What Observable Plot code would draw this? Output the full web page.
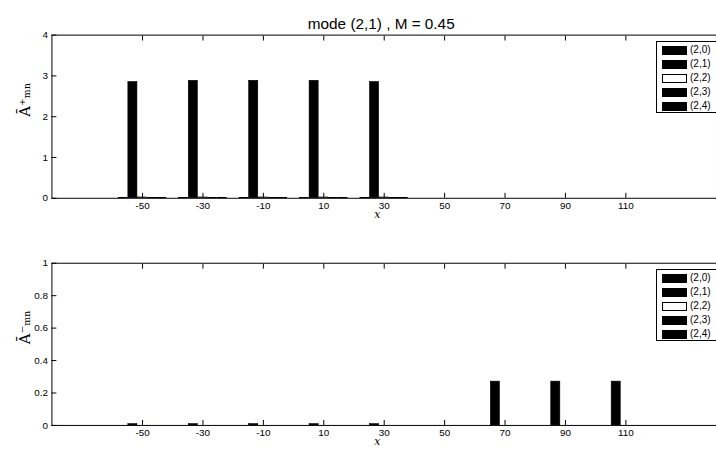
<!DOCTYPE html>
<html><head><meta charset="utf-8">
<script src="https://cdn.jsdelivr.net/npm/d3@7"></script>
<script src="https://cdn.jsdelivr.net/npm/@observablehq/plot@0.6"></script>
<style>
html,body{margin:0;padding:0;background:#fff;overflow:hidden;width:716px;height:449px;}
#wrap{position:relative;width:716px;height:449px;overflow:hidden;font-family:"Liberation Sans",Arial,sans-serif;}
.panel{position:absolute;left:0;}
.legend{position:absolute;border:1px solid #000;background:#fff;width:80px;height:70px;}
.legend .row{position:absolute;left:5px;height:10px;display:flex;align-items:center;}
.legend .sw{width:25px;height:9px;border:1px solid #000;box-sizing:border-box;margin-right:3px;}
.legend .lab{font-size:10px;color:#000;line-height:10px;}
</style></head><body><div id="wrap"></div>
<script>
const categories = [-50, -30, -10, 10, 30, 50, 70, 90, 110];
const seriesNames = ["(2,0)", "(2,1)", "(2,2)", "(2,3)", "(2,4)"];
const seriesFill = ["#000", "#000", "#fff", "#000", "#000"];

// top panel (A+), one array per series
const top_20 = [0.01, 0.01, 0.01, 0.01, 0.01, 0, 0, 0, 0];
const top_21 = [2.85, 2.88, 2.88, 2.88, 2.85, 0, 0, 0, 0];
const top_22 = [0.02, 0.02, 0.02, 0.02, 0.02, 0, 0, 0, 0];
const top_23 = [0.01, 0.01, 0.01, 0.01, 0.01, 0, 0, 0, 0];
const top_24 = [0.01, 0.01, 0.01, 0.01, 0.01, 0, 0, 0, 0];
// bottom panel (A-)
const bot_20 = [0, 0, 0, 0, 0, 0, 0, 0, 0];
const bot_21 = [0.008, 0.008, 0.008, 0.008, 0.008, 0, 0.27, 0.27, 0.27];
const bot_22 = [0, 0, 0, 0, 0, 0, 0, 0, 0];
const bot_23 = [0, 0, 0, 0, 0, 0, 0, 0, 0];
const bot_24 = [0, 0, 0, 0, 0, 0, 0, 0, 0];

const topTicksY = [0, 1, 2, 3, 4];
const botTicksY = [0, 0.2, 0.4, 0.6, 0.8, 1];
const titleText = "mode (2,1) , M = 0.45";

function rowsOf(seriesArrays) {
  const rows = [];
  seriesArrays.forEach((arr, s) => arr.forEach((v, i) => rows.push({x: categories[i], s, v})));
  return rows;
}
const groupStep = 3.2, barW = 3.0;

function panel({rows, yDomain, yTicks, height, marginTop, marginBottom, ylabel, title}) {
  const marks = [
    Plot.rect(rows, {
      x1: d => d.x + (d.s - 2) * groupStep - barW / 2,
      x2: d => d.x + (d.s - 2) * groupStep + barW / 2,
      y1: 0, y2: "v",
      fill: d => seriesFill[d.s], stroke: "#000", strokeWidth: 0.6
    }),
    Plot.frame({stroke: "#000", strokeWidth: 1}),
    Plot.axisX({anchor: "bottom", ticks: categories, tickSize: -5, tickPadding: 9, tickFormat: d => String(d), label: null}),
    Plot.axisX({anchor: "top", ticks: categories, tickSize: -5, tickFormat: () => "", label: null}),
    Plot.axisY({anchor: "left", ticks: yTicks, tickSize: -5, tickPadding: 9, tickFormat: d => String(d), label: null}),
    Plot.text(["x"], {frameAnchor: "bottom", text: d => d, dy: 20, dx: -7, fontStyle: "italic", fontFamily: "DejaVu Serif", fontSize: 11}),
    Plot.text([ylabel], {frameAnchor: "left", text: d => d, rotate: -90, dx: -27, fontFamily: "DejaVu Serif", fontSize: 15})
  ];
  if (title) marks.push(Plot.text([title], {frameAnchor: "top", text: d => d, dy: -17, dx: -3, fontSize: 15.5}));
  return Plot.plot({
    width: 724, height, marginLeft: 52, marginRight: 0, marginTop, marginBottom,
    x: {domain: [-80, 140]},
    y: {domain: yDomain},
    style: {fontFamily: "Liberation Sans, Arial, sans-serif", fontSize: "10px", color: "#000", background: "#fff", overflow: "visible"},
    marks
  });
}

function legend(top) {
  const lg = document.createElement("div");
  lg.className = "legend";
  lg.style.left = "656px"; lg.style.top = top + "px";
  seriesNames.forEach((n, i) => {
    const r = document.createElement("div");
    r.className = "row"; r.style.top = (3 + i * 14) + "px";
    const sw = document.createElement("div"); sw.className = "sw"; sw.style.background = seriesFill[i];
    const lab = document.createElement("span"); lab.className = "lab"; lab.textContent = n;
    r.appendChild(sw); r.appendChild(lab); lg.appendChild(r);
  });
  return lg;
}

const wrap = document.getElementById("wrap");
const p1 = panel({rows: rowsOf([top_20, top_21, top_22, top_23, top_24]), yDomain: [0, 4], yTicks: topTicksY,
  height: 225, marginTop: 35, marginBottom: 25, ylabel: "Ā⁺ₘₙ", title: titleText});
p1.classList.add("panel"); p1.style.top = "0px";
const p2 = panel({rows: rowsOf([bot_20, bot_21, bot_22, bot_23, bot_24]), yDomain: [0, 1], yTicks: botTicksY,
  height: 209, marginTop: 23, marginBottom: 22, ylabel: "Ā⁻ₘₙ"});
p2.classList.add("panel"); p2.style.top = "240px";
wrap.appendChild(p1); wrap.appendChild(p2);
wrap.appendChild(legend(41));
wrap.appendChild(legend(269));
</script>
</body></html>
